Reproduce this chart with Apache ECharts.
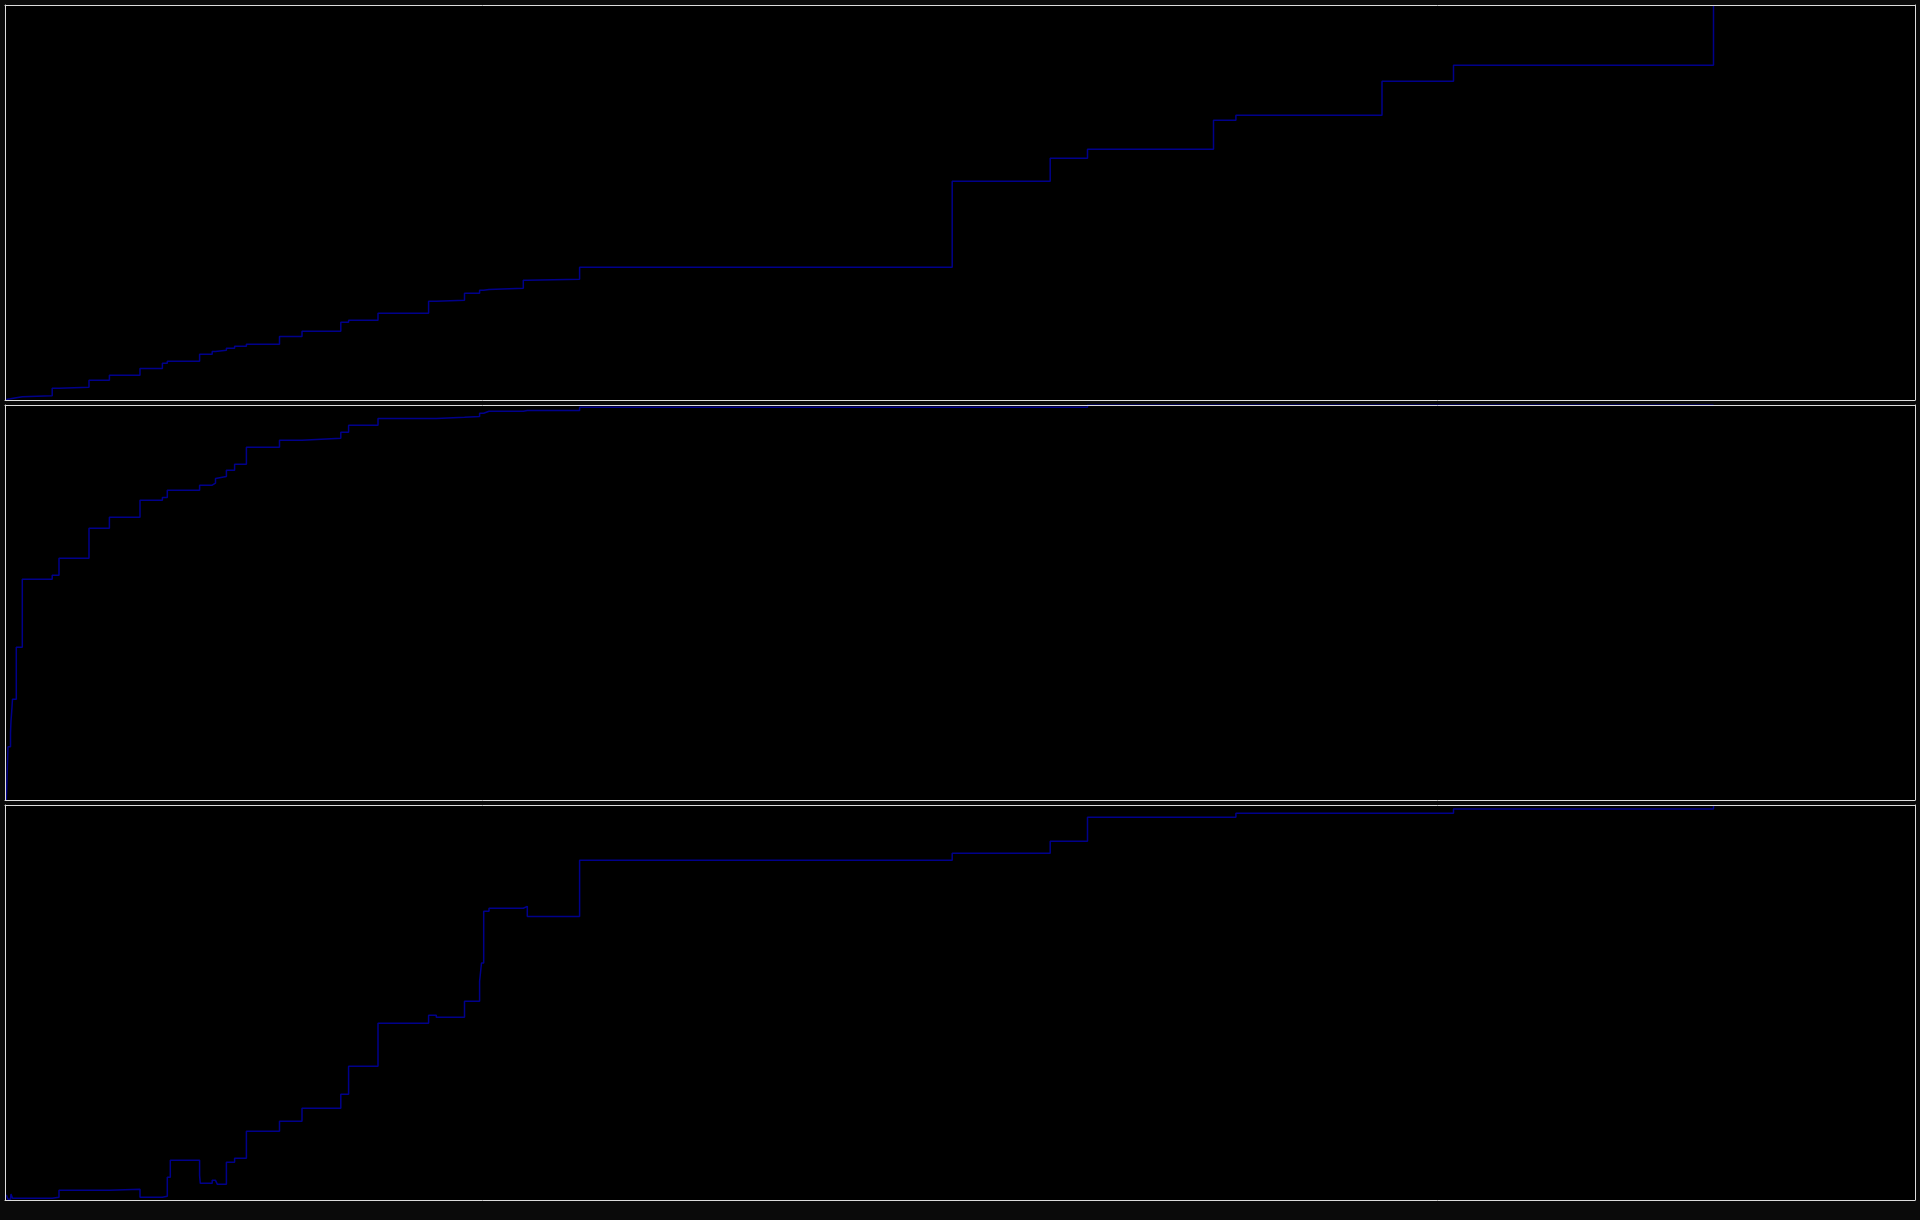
<!DOCTYPE html>
<html>
<head>
<meta charset="utf-8">
<script src="https://cdn.jsdelivr.net/npm/echarts@6/dist/echarts.min.js"></script>
<style>
  html, body { margin: 0; padding: 0; background: #0a0a0a; }
  #chart { width: 1920px; height: 1220px; }
</style>
</head>
<body>
<div id="chart"></div>
<script>
// Shared event positions (x) and the three stepped series (y, 0-100 scale)
const eventX = [1.3, 2.0, 3.0, 5.5, 6.0, 6.7, 7.5, 11.3, 17.3, 47.2, 54, 84, 104.4, 135, 157.4, 162.3, 165.3,
  194.6, 195.3, 207.2, 210.5, 212.4, 221.4, 229.6, 241.4, 274.5, 297, 335.8, 343.6, 373, 423.6, 431.3,
  459.5, 474.6, 476.5, 478.7, 484, 518.3, 522.3, 574.6, 947.2, 1045.2, 1082.5, 1208.5, 1230.9, 1377,
  1448.5, 1708.5];

const topSeries = [0.1, 0.17, 0.3, 0.33, 0.45, 0.5, 0.59, 0.84, 1.1, 2.95, 3.2, 4.98, 6.24, 8.0, 9.28, 9.79,
  9.79, 11.56, 11.56, 12.3, 12.4, 12.57, 13.08, 13.59, 14.1, 16.1, 17.38, 19.66, 20.17, 21.94, 24.98, 25.23,
  27.0, 27.76, 27.76, 28.0, 28.27, 30.3, 30.55, 33.59, 55.36, 61.18, 63.46, 70.8, 72.07, 80.68, 84.73, 100];

const middleSeries = [0, 5.6, 13.5, 17, 20, 22.4, 25.5, 38.7, 55.9, 56.9, 61.2, 68.8, 71.6, 75.9, 76.6, 78.4,
  78.4, 79.7, 79.7, 80.2, 81.4, 81.9, 83.5, 85.0, 89.3, 91.1, 91.6, 93.1, 94.9, 96.6, 96.6, 96.9, 97.1,
  97.9, 97.9, 98.4, 98.4, 98.6, 98.6, 99.4, 99.4, 99.4, 100, 100, 100, 100, 100, 100];

const bottomSeries = [1.3, 0.8, 0.17, 0.17, 1.5, 1.5, 0.42, 0.42, 0.42, 0.68, 2.45, 2.45, 2.7, 0.68, 0.93,
  5.74, 10.05, 6.25, 4.22, 4.98, 4.98, 3.97, 9.54, 10.56, 17.4, 19.92, 23.2, 26.75, 33.85, 44.73, 46.76,
  46.25, 50.3, 55.37, 60, 73.1, 73.85, 74.35, 71.8, 86.0, 87.76, 90.8, 96.9, 96.9, 97.9, 97.9, 99.0, 100];

const xRange = [0, 1910];
const yRange = [0, 100];

const panels = [topSeries, middleSeries, bottomSeries];
const gridTops = [5, 405, 805];
const borderColor = '#dcdcdc';
const lineColor = '#00008b';

const grids = [], xAxes = [], yAxes = [], series = [];
const axisBase = {
  axisLabel: { show: false }, axisTick: { show: false }, splitLine: { show: false },
  z: 10
};
panels.forEach((vals, i) => {
  grids.push({ left: 5, right: 5, top: gridTops[i], height: 395, show: true,
    backgroundColor: '#000000', borderWidth: 0 });
  ['bottom', 'top'].forEach(pos => xAxes.push(Object.assign({}, axisBase, {
    type: 'value', gridIndex: i, position: pos, min: xRange[0], max: xRange[1],
    axisLine: { show: true, onZero: false, lineStyle: { color: borderColor, width: 1 } }
  })));
  ['left', 'right'].forEach(pos => yAxes.push(Object.assign({}, axisBase, {
    type: 'value', gridIndex: i, position: pos, min: yRange[0], max: yRange[1],
    axisLine: { show: true, onZero: false, lineStyle: { color: borderColor, width: 1 } }
  })));
  series.push({
    type: 'line', xAxisIndex: i * 2, yAxisIndex: i * 2, step: 'end',
    showSymbol: false, symbol: 'none', z: 2,
    lineStyle: { color: lineColor, width: 1.5 },
    data: eventX.map((x, k) => [x, vals[k]])
  });
});

const chart = echarts.init(document.getElementById('chart'), null, { renderer: 'canvas' });
chart.setOption({
  backgroundColor: '#0a0a0a',
  animation: false,
  grid: grids, xAxis: xAxes, yAxis: yAxes, series: series
});
</script>
</body>
</html>
